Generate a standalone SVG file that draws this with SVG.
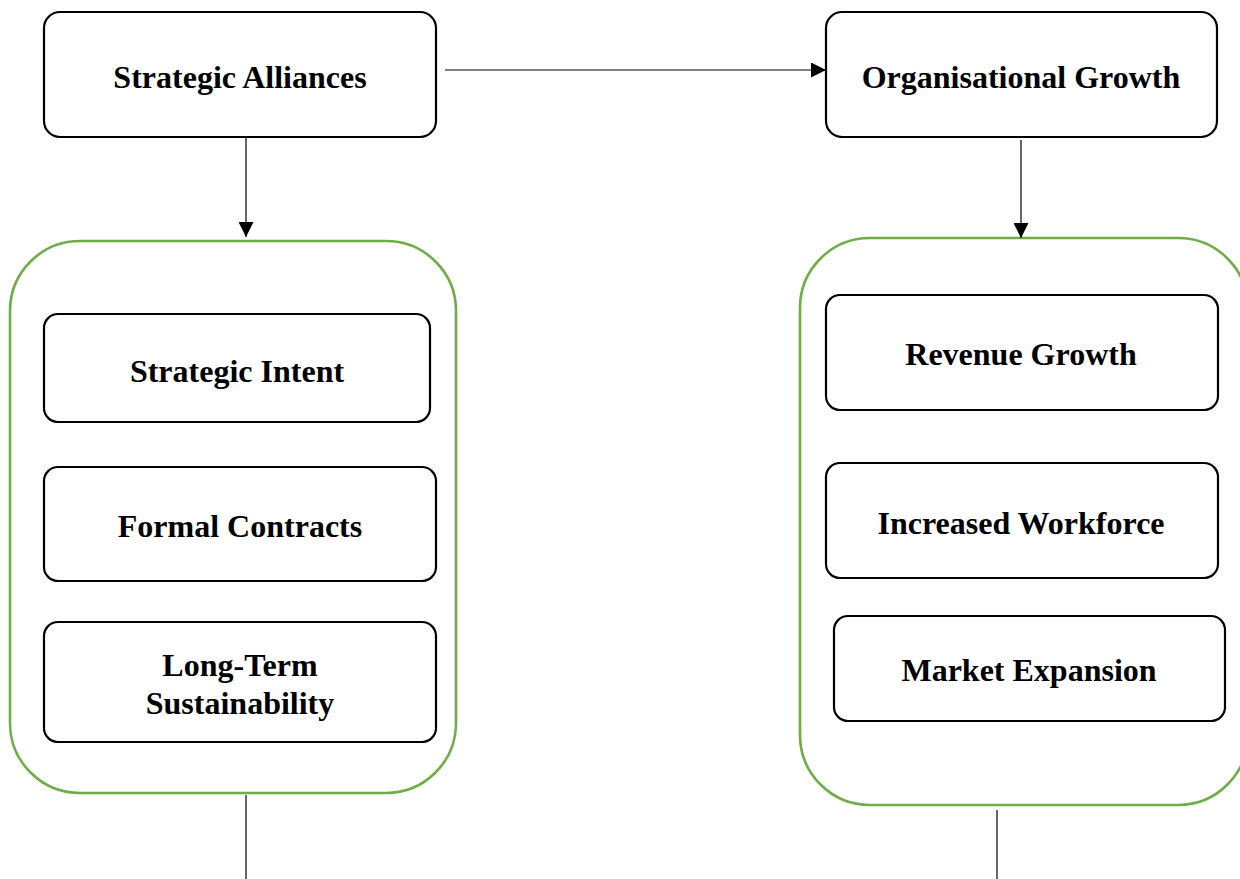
<svg xmlns="http://www.w3.org/2000/svg" width="1240" height="879" viewBox="0 0 1240 879">
  <style>
    .box { fill: #ffffff; stroke: #000000; stroke-width: 2.2; }
    .group { fill: #ffffff; stroke: #70AD47; stroke-width: 2.6; }
    .label { font-family: "Liberation Serif", "Times New Roman", serif; font-weight: bold; font-size: 32px; fill: #000000; text-anchor: middle; }
    .wire { stroke: #000000; stroke-width: 1.2; fill: none; }
  </style>
  <defs>
    <marker id="arrow" viewBox="0 0 10 10" refX="10" refY="5" markerWidth="15" markerHeight="15" markerUnits="userSpaceOnUse" orient="auto">
      <path d="M0,0 L10,5 L0,10 Z" fill="#000000"/>
    </marker>
  </defs>

  <rect width="1240" height="879" fill="#ffffff"/>

  <!-- grouping containers -->
  <g id="alliances-dimensions">
    <rect class="group" x="10" y="241" width="446" height="552" rx="70" ry="70"/>
  </g>
  <g id="growth-dimensions">
    <rect class="group" x="800" y="238" width="448" height="567" rx="70" ry="70"/>
  </g>

  <!-- connectors -->
  <g id="connectors">
    <line class="wire" x1="445" y1="70" x2="826" y2="70" marker-end="url(#arrow)"/>
    <line class="wire" x1="246" y1="132" x2="246" y2="237" marker-end="url(#arrow)"/>
    <line class="wire" x1="1021" y1="140" x2="1021" y2="238" marker-end="url(#arrow)"/>
    <line class="wire" x1="246" y1="795" x2="246" y2="879"/>
    <line class="wire" x1="997" y1="810" x2="997" y2="879"/>
  </g>

  <!-- main nodes -->
  <g id="strategic-alliances">
    <rect class="box" x="44" y="12" width="392" height="125" rx="16" ry="16"/>
    <text class="label" x="240" y="88">Strategic Alliances</text>
  </g>
  <g id="organisational-growth">
    <rect class="box" x="826" y="12" width="391" height="125" rx="16" ry="16"/>
    <text class="label" x="1021" y="88">Organisational Growth</text>
  </g>

  <!-- alliance dimensions -->
  <g id="strategic-intent">
    <rect class="box" x="44" y="314" width="386" height="108" rx="14" ry="14"/>
    <text class="label" x="237" y="382">Strategic Intent</text>
  </g>
  <g id="formal-contracts">
    <rect class="box" x="44" y="467" width="392" height="114" rx="14" ry="14"/>
    <text class="label" x="240" y="537">Formal Contracts</text>
  </g>
  <g id="long-term-sustainability">
    <rect class="box" x="44" y="622" width="392" height="120" rx="14" ry="14"/>
    <text class="label" x="240" y="676">Long-Term</text>
    <text class="label" x="240" y="714">Sustainability</text>
  </g>

  <!-- growth dimensions -->
  <g id="revenue-growth">
    <rect class="box" x="826" y="295" width="392" height="115" rx="14" ry="14"/>
    <text class="label" x="1021" y="365">Revenue Growth</text>
  </g>
  <g id="increased-workforce">
    <rect class="box" x="826" y="463" width="392" height="115" rx="14" ry="14"/>
    <text class="label" x="1021" y="534">Increased Workforce</text>
  </g>
  <g id="market-expansion">
    <rect class="box" x="834" y="616" width="391" height="105" rx="14" ry="14"/>
    <text class="label" x="1029" y="681">Market Expansion</text>
  </g>
</svg>
